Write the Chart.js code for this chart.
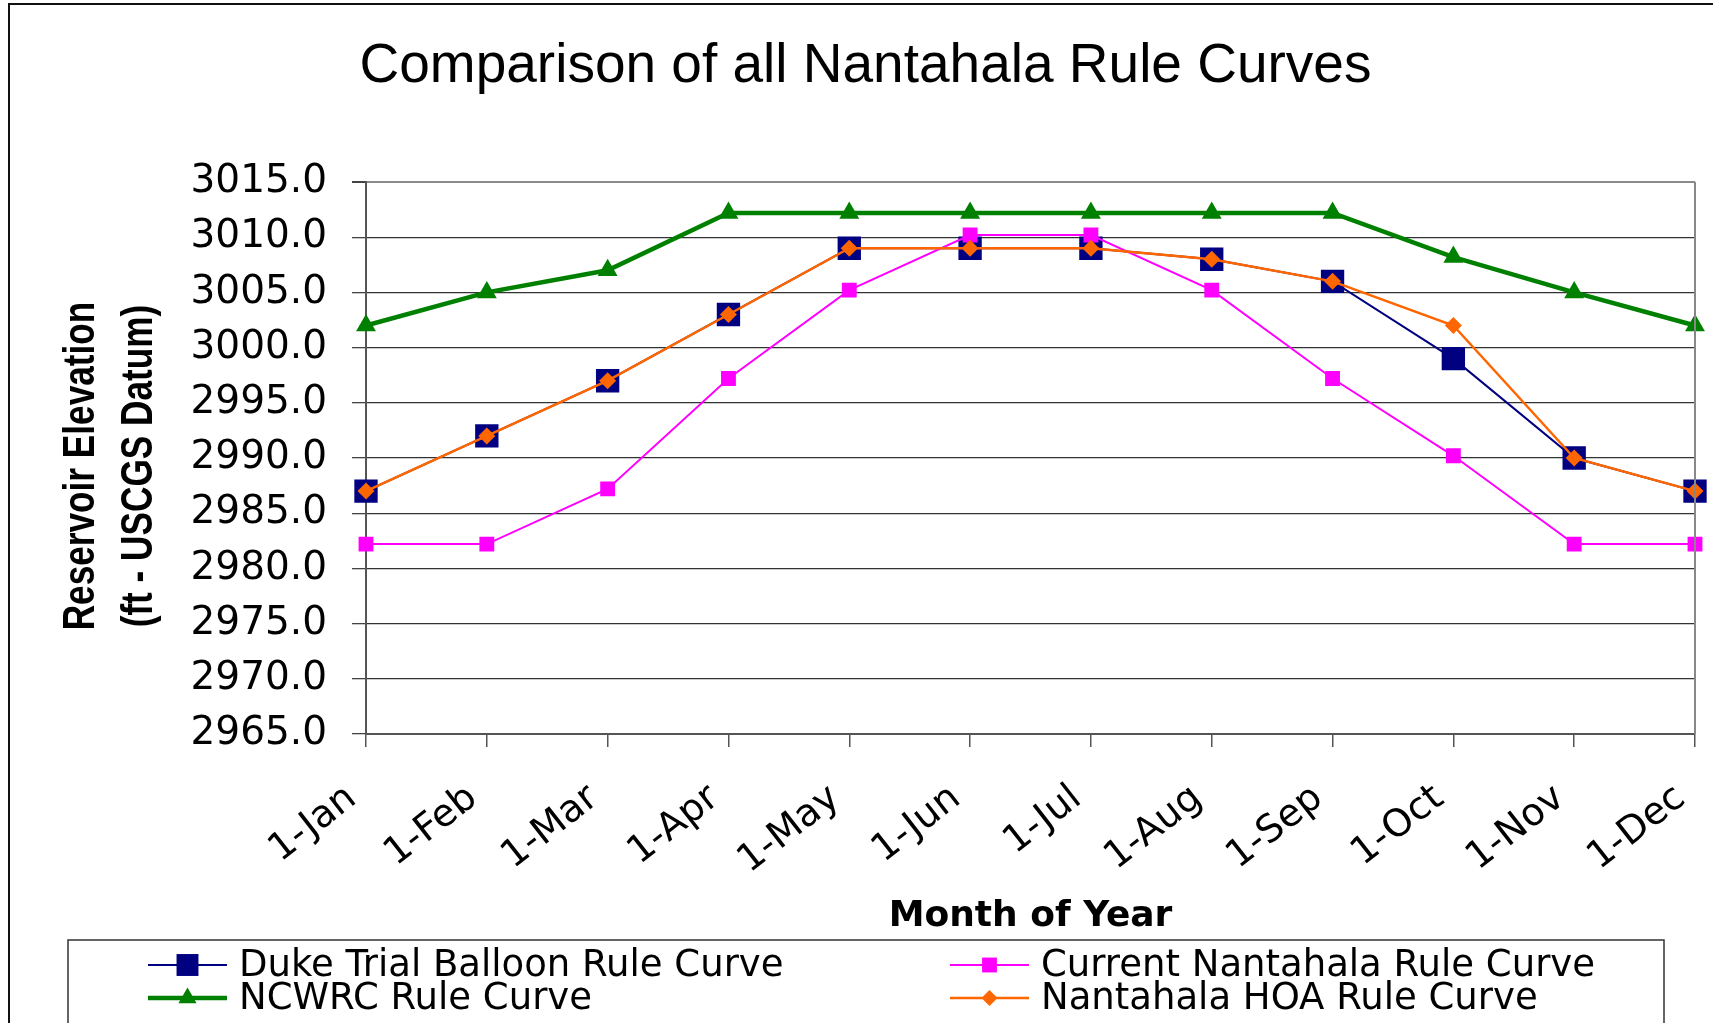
<!DOCTYPE html>
<html>
<head>
<meta charset="utf-8">
<title>Comparison of all Nantahala Rule Curves</title>
<script src="https://cdn.jsdelivr.net/npm/chart.js@4.4.1/dist/chart.umd.min.js"></script>
<style>
  html, body { margin: 0; padding: 0; background: #fff; overflow: hidden; }
  #chart { display: block; }
</style>
</head>
<body>
<canvas id="chart" width="1713" height="1023"></canvas>
<script>
// values (ft)
const months = ['1-Jan', '1-Feb', '1-Mar', '1-Apr', '1-May', '1-Jun', '1-Jul', '1-Aug', '1-Sep', '1-Oct', '1-Nov', '1-Dec'];
const dukeTrialBalloon = [2987, 2992, 2997, 3003, 3009, 3009, 3009, 3008, 3006, 2999, 2990, 2987];
const currentNantahala = [2982.2, 2982.2, 2987.2, 2997.2, 3005.2, 3010.2, 3010.2, 3005.2, 2997.2, 2990.2, 2982.2, 2982.2];
const ncwrc = [3002, 3005, 3007, 3012.2, 3012.2, 3012.2, 3012.2, 3012.2, 3012.2, 3008.2, 3005, 3002];
const nantahalaHoa = [2987, 2992, 2997, 3003, 3009, 3009, 3009, 3008, 3006, 3002, 2990, 2987];

const yMin = 2965, yMax = 3015, yStep = 5;
const yTitle = ['Reservoir Elevation', '(ft - USCGS Datum)'];

const frame = {
  id: 'frame',
  beforeDraw(chart) {
    const ctx = chart.ctx;
    ctx.save();
    ctx.fillStyle = '#fff';
    ctx.fillRect(0, 0, chart.width, chart.height);
    ctx.strokeStyle = '#111';
    ctx.lineWidth = 2;
    ctx.beginPath();
    ctx.moveTo(9, chart.height + 5);
    ctx.lineTo(9, 4);
    ctx.lineTo(chart.width + 5, 4);
    ctx.stroke();
    ctx.restore();
  },
  afterDatasetsDraw(chart) {
    // right edge of the plot area
    const a = chart.chartArea;
    const ctx = chart.ctx;
    ctx.save();
    ctx.strokeStyle = '#888';
    ctx.lineWidth = 2;
    ctx.beginPath();
    ctx.moveTo(a.right, a.top);
    ctx.lineTo(a.right, a.bottom);
    ctx.stroke();
    ctx.restore();
  }
};

// y axis title, drawn condensed like the original
const yAxisTitle = {
  id: 'yAxisTitle',
  afterDraw(chart) {
    const a = chart.chartArea;
    const ctx = chart.ctx;
    ctx.save();
    ctx.translate(82, (a.top + a.bottom) / 2 + 8);
    ctx.rotate(-Math.PI / 2);
    ctx.scale(0.8, 1);
    ctx.font = 'bold 44px "Liberation Sans", Arial, sans-serif';
    ctx.fillStyle = '#000';
    ctx.textAlign = 'center';
    ctx.textBaseline = 'middle';
    yTitle.forEach((t, i) => ctx.fillText(t, 0, i * 58));
    ctx.restore();
  }
};

// boxed legend, two columns like the original
const boxLegend = {
  id: 'boxLegend',
  afterDraw(chart) {
    const ctx = chart.ctx;
    const cols = [148, 950];
    const rows = [965, 998];
    ctx.save();
    ctx.strokeStyle = '#333';
    ctx.lineWidth = 1.5;
    ctx.strokeRect(68, 940, 1596, 100);
    ctx.font = '37px "DejaVu Sans", sans-serif';
    ctx.textBaseline = 'middle';
    ctx.textAlign = 'left';
    chart.data.datasets.forEach((ds, i) => {
      const x = cols[i % 2], y = rows[Math.floor(i / 2)];
      ctx.strokeStyle = ds.borderColor;
      ctx.fillStyle = ds.borderColor;
      ctx.lineWidth = ds.borderWidth;
      ctx.beginPath();
      ctx.moveTo(x, y);
      ctx.lineTo(x + 79, y);
      ctx.stroke();
      Chart.helpers.drawPoint(ctx, {
        pointStyle: ds.pointStyle,
        radius: ds.legendRadius,
        rotation: 0,
        borderWidth: 0
      }, x + 39.5, y);
      ctx.fillStyle = '#000';
      ctx.fillText(ds.label, x + 91, y + 1);
    });
    ctx.restore();
  }
};

new Chart(document.getElementById('chart'), {
  type: 'line',
  data: {
    labels: months,
    datasets: [
      {
        label: 'Duke Trial Balloon Rule Curve',
        data: dukeTrialBalloon,
        borderColor: '#000080',
        backgroundColor: '#000080',
        borderWidth: 2,
        pointStyle: 'rect',
        pointRadius: 16.5,
        pointBorderWidth: 0,
        legendRadius: 15.5,
        order: 4
      },
      {
        label: 'Current Nantahala Rule Curve',
        data: currentNantahala,
        borderColor: '#ff00ff',
        backgroundColor: '#ff00ff',
        borderWidth: 2,
        pointStyle: 'rect',
        pointRadius: 10.5,
        pointBorderWidth: 0,
        legendRadius: 10.5,
        order: 3
      },
      {
        label: 'NCWRC Rule Curve',
        data: ncwrc,
        borderColor: '#008000',
        backgroundColor: '#008000',
        borderWidth: 4.5,
        pointStyle: 'triangle',
        pointRadius: 11.5,
        pointBorderWidth: 0,
        legendRadius: 10.5,
        order: 2
      },
      {
        label: 'Nantahala HOA Rule Curve',
        data: nantahalaHoa,
        borderColor: '#ff6600',
        backgroundColor: '#ff6600',
        borderWidth: 2.5,
        pointStyle: 'rectRot',
        pointRadius: 8.5,
        pointBorderWidth: 0,
        legendRadius: 8,
        order: 1
      }
    ]
  },
  options: {
    responsive: false,
    animation: false,
    devicePixelRatio: 1,
    layout: { padding: { left: 18, right: 0, top: 0, bottom: 79 } },
    plugins: {
      legend: { display: false },
      tooltip: { enabled: false },
      title: {
        display: true,
        text: 'Comparison of all Nantahala Rule Curves',
        color: '#000',
        font: { family: '"Liberation Sans", Arial', size: 55, weight: 'normal', lineHeight: 1.2 },
        padding: { top: 34, bottom: 82 }
      }
    },
    scales: {
      x: {
        type: 'category',
        offset: false,
        afterFit(scale) {
          scale.height = 210;
          scale.paddingLeft = 0;
          scale.paddingRight = 18;
        },
        border: { display: true, color: '#555', width: 2 },
        grid: { display: true, drawOnChartArea: false, drawTicks: true, tickLength: 13, color: '#555', lineWidth: 1.5 },
        ticks: {
          autoSkip: false,
          minRotation: 38,
          maxRotation: 38,
          padding: 29,
          labelOffset: -14,
          color: '#000',
          font: { family: '"DejaVu Sans", sans-serif', size: 38 }
        },
        title: {
          display: true,
          text: 'Month of Year',
          color: '#000',
          font: { family: '"DejaVu Sans", sans-serif', size: 36, weight: 'bold', lineHeight: 1.1 },
          padding: { top: 0, bottom: 8 }
        }
      },
      y: {
        min: yMin,
        max: yMax,
        afterFit(scale) { scale.width = 348; },
        border: { display: true, color: '#555', width: 2 },
        grid: {
          color: (c) => c.tick && c.tick.value === yMax ? '#8a8a8a' : '#333',
          lineWidth: (c) => c.tick && c.tick.value === yMax ? 2 : 1.3,
          tickLength: 14,
          tickColor: '#444'
        },
        ticks: {
          stepSize: yStep,
          padding: 25,
          color: '#000',
          font: { family: '"DejaVu Sans", sans-serif', size: 39 },
          callback: (v) => Number(v).toFixed(1)
        },
        title: { display: false }
      }
    }
  },
  plugins: [frame, yAxisTitle, boxLegend]
});
</script>
</body>
</html>
